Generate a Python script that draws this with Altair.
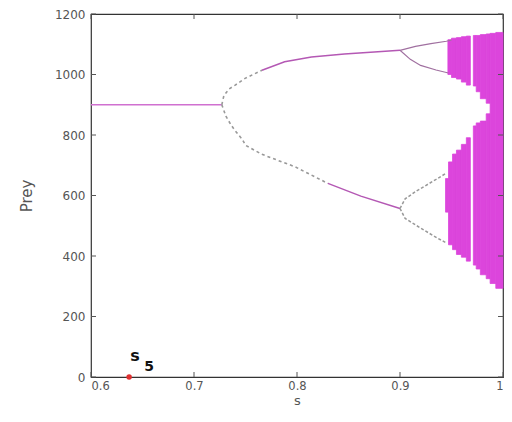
import altair as alt
import pandas as pd

# ---- data ----
fixed_s = [0.600, 0.727]
fixed_y = [900, 900]

upper_s = [0.727, 0.729, 0.734, 0.740, 0.750, 0.766, 0.788, 0.814, 0.846, 0.875, 0.900]
upper_y = [900, 930, 952, 965, 988, 1014, 1042, 1058, 1068, 1074, 1080]
lower_s = [0.727, 0.731, 0.736, 0.740, 0.747, 0.750, 0.766, 0.798, 0.830, 0.862, 0.900]
lower_y = [900, 862, 833, 814, 785, 766, 736, 695, 640, 598, 557]

p4_uu_s = [0.900, 0.915, 0.930, 0.945, 0.950]
p4_uu_y = [1080, 1093, 1102, 1110, 1114]
p4_ul_s = [0.900, 0.910, 0.920, 0.935, 0.947]
p4_ul_y = [1080, 1050, 1030, 1015, 1005]
p4_lu_s = [0.900, 0.905, 0.916, 0.935, 0.944]
p4_lu_y = [557, 589, 615, 653, 672]
p4_ll_s = [0.900, 0.905, 0.923, 0.936, 0.944]
p4_ll_y = [557, 524, 486, 460, 445]

# chaotic bands: column start, column end, low, high
band_s0 = [0.9465, 0.9500, 0.9548, 0.9596, 0.9644,
           0.9442, 0.9471, 0.9510, 0.9548, 0.9596, 0.9644,
           0.9712, 0.9740, 0.9780, 0.9837,
           0.9712, 0.9740, 0.9780, 0.9837,
           0.9875, 0.9930]
band_s1 = [0.9500, 0.9548, 0.9596, 0.9644, 0.9683,
           0.9471, 0.9510, 0.9548, 0.9596, 0.9644, 0.9683,
           0.9740, 0.9780, 0.9837, 0.9875,
           0.9740, 0.9780, 0.9837, 0.9875,
           0.9930, 1.0000]
band_lo = [1000, 990, 985, 975, 965,
           545, 437, 421, 405, 396, 383,
           962, 943, 920, 905,
           370, 357, 338, 325,
           309, 293]
band_hi = [1115, 1120, 1122, 1125, 1127,
           656, 711, 737, 750, 769, 791,
           1129, 1129, 1132, 1134,
           830, 840, 846, 870,
           1136, 1139]

marker_s = [0.637]
marker_y = [0]

x_ticks = [0.6, 0.7, 0.8, 0.9, 1.0]
y_ticks = [0, 200, 400, 600, 800, 1000, 1200]

W, H = 412, 363

xs = alt.Scale(domain=[0.6, 1.0], nice=False, zero=False)
ys = alt.Scale(domain=[0, 1200], nice=False)

xaxis = alt.Axis(values=x_ticks, format=".1~f", ticks=False, domain=False, grid=False,
                 labelFont="DejaVu Sans", labelFontSize=11.5, labelColor="#555",
                 labelPadding=3, title="s", titleFont="DejaVu Sans", titleFontSize=13,
                 titleFontWeight="normal", titleColor="#555", titlePadding=3)
yaxis = alt.Axis(values=y_ticks, format="d", ticks=False, domain=False, grid=False,
                 labelFont="DejaVu Sans", labelFontSize=12, labelColor="#555",
                 labelPadding=6, title="Prey", titleFont="DejaVu Sans", titleFontSize=15,
                 titleFontWeight="normal", titleColor="#555", titlePadding=20)


def series(s, y, name):
    return pd.DataFrame({"s": s, "y": y, "b": name})


p4_solid = pd.concat([series(p4_uu_s, p4_uu_y, "a"), series(p4_ul_s, p4_ul_y, "b")])
p4_dot = pd.concat([series(p4_lu_s, p4_lu_y, "c"), series(p4_ll_s, p4_ll_y, "d")])
bands = pd.DataFrame({"s0": band_s0, "s1": band_s1, "lo": band_lo, "hi": band_hi})
marker = pd.DataFrame({"s": marker_s, "y": marker_y})
fixed = pd.DataFrame({"s": fixed_s, "y": fixed_y})
upper_df = series(upper_s, upper_y, "u")
lower_df = series(lower_s, lower_y, "l")

line_col = "#b458b4"
band_col = "#dc45dc"

X = lambda f: alt.X(f, scale=xs)
Y = lambda f: alt.Y(f, scale=ys)

fixed_layer = alt.Chart(fixed).mark_line(color="#d070d0", strokeWidth=1.3).encode(
    x=alt.X("s:Q", scale=xs, axis=xaxis), y=alt.Y("y:Q", scale=ys, axis=yaxis))

up_dot = alt.Chart(upper_df).transform_filter("datum.s <= 0.766").mark_line(
    color="#999", strokeWidth=1.6, strokeDash=[3, 3]).encode(x=X("s:Q"), y=Y("y:Q"))
up_sol = alt.Chart(upper_df).transform_filter("datum.s >= 0.766").mark_line(
    color=line_col, strokeWidth=1.5).encode(x=X("s:Q"), y=Y("y:Q"))
lo_dot = alt.Chart(lower_df).transform_filter("datum.s <= 0.830").mark_line(
    color="#999", strokeWidth=1.6, strokeDash=[3, 3]).encode(x=X("s:Q"), y=Y("y:Q"))
lo_sol = alt.Chart(lower_df).transform_filter("datum.s >= 0.830").mark_line(
    color=line_col, strokeWidth=1.5).encode(x=X("s:Q"), y=Y("y:Q"))

p4a = alt.Chart(p4_solid).mark_line(color="#a070a0", strokeWidth=1.2).encode(
    x=X("s:Q"), y=Y("y:Q"), detail="b:N")
p4b = alt.Chart(p4_dot).mark_line(color="#999", strokeWidth=1.5, strokeDash=[3, 2]).encode(
    x=X("s:Q"), y=Y("y:Q"), detail="b:N")

band_layer = alt.Chart(bands).mark_rect(color=band_col, stroke=band_col, strokeWidth=0.8,
                                        opacity=1).encode(
    x=X("s0:Q"), x2="s1:Q", y=Y("lo:Q"), y2="hi:Q")

mk = alt.Chart(marker).mark_circle(color="#e03030", size=30, opacity=1).encode(
    x=X("s:Q"), y=Y("y:Q"))
lab_s = alt.Chart(marker).mark_text(text="s", font="DejaVu Sans", fontWeight="bold",
                                    fontSize=16, dx=6, dy=-21, color="#111").encode(
    x=X("s:Q"), y=Y("y:Q"))
lab_5 = alt.Chart(marker).mark_text(text="5", font="DejaVu Sans", fontWeight="bold",
                                    fontSize=14, dx=20, dy=-10, color="#111").encode(
    x=X("s:Q"), y=Y("y:Q"))

ty = pd.DataFrame({"v": y_ticks})
tx = pd.DataFrame({"v": x_ticks})
tick_col = "#555"
tl = alt.Chart(ty).mark_rule(color=tick_col).encode(
    y=Y("v:Q"), x=alt.value(0), x2=alt.value(5))
tr = alt.Chart(ty).mark_rule(color=tick_col).encode(
    y=Y("v:Q"), x=alt.value(W - 5), x2=alt.value(W))
tb = alt.Chart(tx).mark_rule(color=tick_col).encode(
    x=X("v:Q"), y=alt.value(H - 5), y2=alt.value(H))
tt = alt.Chart(tx).mark_rule(color=tick_col).encode(
    x=X("v:Q"), y=alt.value(0), y2=alt.value(5))

chart = alt.layer(
    fixed_layer, band_layer, up_dot, up_sol, lo_dot, lo_sol, p4a, p4b,
    tl, tr, tb, tt, mk, lab_s, lab_5
).properties(
    width=W, height=H,
    autosize=alt.AutoSizeParams(type="none"),
    padding={"left": 83, "top": 6, "right": 1, "bottom": 31},
).configure_view(stroke="#333", strokeWidth=1.2)

chart.save("out.html", embed_options={"renderer": "svg", "actions": False})
